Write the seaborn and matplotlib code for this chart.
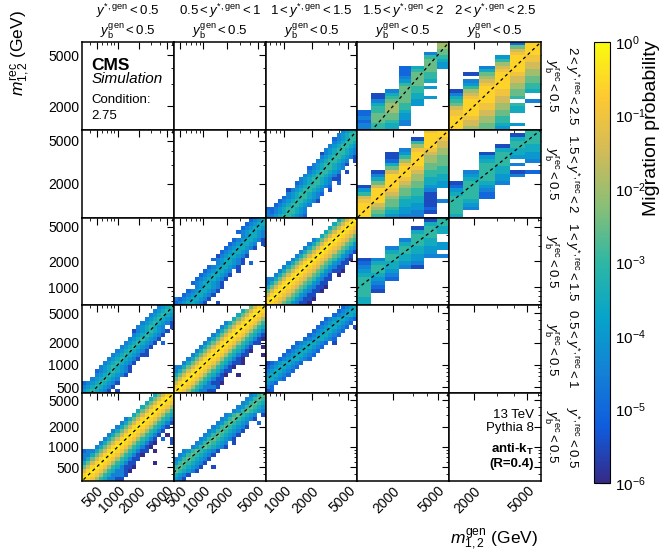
import numpy as np
import matplotlib
matplotlib.use("Agg")
import matplotlib.pyplot as plt
import seaborn as sns
from matplotlib.colors import LogNorm
from matplotlib.cm import ScalarMappable
from matplotlib.ticker import FixedLocator, LogLocator, NullFormatter, FuncFormatter

# ---------------------------------------------------------------- data
YSTAR_BINS = ["0", "0.5", "1", "1.5", "2", "2.5"]
YB_MAX = "0.5"

# mass bin edges (GeV) per y* bin
EDGES_YS0 = [310, 356, 408, 468, 536, 615, 705, 809, 928, 1064, 1220, 1400, 1605,
             1841, 2111, 2422, 2777, 3185, 3653, 4190, 4805, 5511, 6328]
EDGES_YS1 = [417, 472, 534, 604, 684, 774, 876, 991, 1121, 1269, 1436, 1625, 1839,
             2081, 2355, 2665, 3016, 3413, 3862, 4370, 4945, 5596, 6328]
EDGES_YS2 = [620, 689, 766, 851, 946, 1051, 1168, 1298, 1443, 1604, 1782, 1981, 2201,
             2447, 2719, 3022, 3358, 3732, 4148, 4610, 5124, 5694, 6328]
EDGES_YS3_REC = [970, 1049, 1134, 1226, 1326, 1434, 1550, 1676, 1813, 1960, 2119, 2292,
                 2478, 2679, 2897, 3132, 3387, 3662, 3960, 4282, 4630, 5006, 5413, 5853, 6328]
EDGES_YS3_GEN = [970, 1290, 1716, 2283, 2900, 3800, 4900, 6328]
EDGES_YS4_REC = [1313, 1395, 1482, 1574, 1673, 1777, 1888, 2005, 2130, 2263, 2404, 2554,
                 2714, 2883, 3063, 3253, 3456, 3672, 3901, 4144, 4402, 4677, 4969, 5278,
                 5608, 5957, 6328]
EDGES_YS4_GEN = [1313, 1670, 2190, 2870, 3710, 4790, 6328]

REC_EDGES = [EDGES_YS0, EDGES_YS1, EDGES_YS2, EDGES_YS3_REC, EDGES_YS4_REC]
GEN_EDGES = [EDGES_YS0, EDGES_YS1, EDGES_YS2, EDGES_YS3_GEN, EDGES_YS4_GEN]

# migration probability codes: log10(probability)
LEVEL_EXP = {'0': -0.25, '1': -0.6, '2': -1.0, '3': -1.5, '4': -2.0, '5': -2.5,
             '6': -3.0, '7': -3.5, '8': -4.0, '9': -4.5, 'a': -5.0, 'b': -5.5, 'c': -6.0}

# "rows" panels: one entry per rec bin from the top, (first gen bin, codes)
REC0_GEN0 = [(17, "75310"), (16, "753101"), (15, "7531012"), (14, "75310124"),
             (13, "753101246"), (12, "7531012467"), (10, "975310124679"),
             (9, "975310124679b"), (8, "975310124679b"), (7, "975310124679b"),
             (6, "975310124679b.c"), (5, "975310124679b.a.b"), (4, "975310124679bc...b"),
             (3, "975310124679bc"), (0, "a9975310124679bb.c"), (0, "9975310124679bc"),
             (0, "975310124679bb"), (0, "75310124679bb....c"), (0, "5310124679bbc"),
             (0, "3101246799bc"), (0, "1012467999b"), (0, "01246799bb")]
REC0_GEN1 = [(18, "9865"), (17, "98656"), (16, "986567"), (15, "9865678"),
             (14, "98656789"), (12, "98656789.b"), (11, "98656789b"), (10, "98656789..a"),
             (9, "98656789b"), (8, "98656789b"), (7, "98656789b"), (6, "98656789b"),
             (5, "98656789.b"), (4, "98656789b"), (2, "98656789b"), (1, "98656789b"),
             (0, "98656789b"), (0, "8656789b"), (0, "656789b..b"), (0, "56789b"),
             (0, "789b"), (0, "89b")]
REC1_GEN0 = [(18, "9876"), (17, "98767"), (16, "987678"), (15, "9876789"),
             (14, "9876789b"), (13, "9876789.b"), (12, "b9876789b"), (12, "9876789b"),
             (11, "9876789b"), (10, "9876789b.a"), (9, "9876789b"), (8, "9876789b"),
             (7, "9876789bb"), (6, "9876789b"), (5, "9876789b"), (4, "9876789b"),
             (3, "a9876789b"), (3, "9876789b"), (2, "9876789"), (0, "a9876789b"),
             (0, "9876789b"), (0, "876789b.b")]
REC1_GEN1 = [(18, "5310"), (16, "753101"), (15, "7531012"), (14, "75310124"),
             (12, "9753101246"), (11, "97531012467"), (10, "975310124679"),
             (9, "975310124679b"), (8, "975310124679bc"), (7, "975310124679bb"),
             (6, "975310124679b..c"), (5, "975310124679bc"), (4, "975310124679bb...c"),
             (3, "975310124679bc"), (2, "975310124679bbc"), (0, "9975310124679bc"),
             (0, "975310124679bb"), (0, "75310124679bc..c"), (0, "5310124679bb"),
             (0, "310124679bbc"), (0, "1012467999b"), (0, "01246799bb")]
REC1_GEN2 = [(18, "a987"), (17, "a9877"), (16, "a98778"), (14, "a987789a"),
             (13, "a987789a"), (12, "a987789a.b"), (11, "a987789a"), (10, "a987789a"),
             (9, "a987789a"), (7, "a987789a.b"), (6, "a987789a"), (5, "a987789a"),
             (4, "a987789a"), (3, "a987789a"), (0, "ba987789a"), (0, "a987789a"),
             (0, "987789a"), (0, "87789a"), (0, "7789a"), (0, "89a"), (0, "9a"), (0, "ba")]
REC2_GEN1 = [(18, "a987"), (17, "a9877"), (16, "a98778"), (15, "a987789"),
             (16, "987789"), (14, "a987789b"), (13, "a987789.b"), (12, "a987789b"),
             (11, "a987789"), (10, "b987789b"), (9, "a987789b"), (10, "987789b.a"),
             (8, "a987789b"), (7, "a987789.b"), (6, "a987789b"), (5, "a987789b"),
             (4, "a987789b"), (5, "987789b"), (3, "a987789b"), (2, "a987789b"),
             (0, "9a987789b"), (0, "a987789b..b")]
REC2_GEN2 = [(17, "75310"), (16, "753101"), (15, "7531012"), (14, "75310123"),
             (13, "753101235"), (11, "97531012356"), (10, "975310123568"),
             (9, "9753101235689"), (8, "9753101235689b"), (7, "9753101235689b"),
             (6, "9753101235689bc"), (5, "9753101235689bb"), (4, "9753101235689bb"),
             (3, "9753101235689bbc"), (2, "9753101235689b.c"), (0, "99753101235689bb"),
             (0, "9753101235689bb"), (0, "753101235689bbc"), (0, "53101235689bbc"),
             (0, "3101235689bb"), (0, "101235689bbc"), (0, "01235689bbc")]
REC3_GEN2 = [(18, "9876"), (17, "98766"), (16, "a98766"), (16, "987667"),
             (15, "9876678"), (14, "98766789"), (13, "b98766789"), (13, "98766789b"),
             (12, "98766789.b"), (11, "98766789b"), (10, "a98766789"), (10, "98766789.b"),
             (9, "98766789b"), (8, "98766789bb"), (7, "a98766789.a"), (7, "98766789a"),
             (5, "b98766789.b"), (5, "98766789a"), (4, "a98766789"), (3, "a98766789b"),
             (2, "a98766789"), (0, "aa98766789"), (0, "9a98766789"), (0, "998766789a")]

# "cols" panels: one entry per gen bin from the left, (first rec bin, codes bottom->top)
REC2_GEN3 = [(0, "7766666789ab"), (3, "ba9876679"), (6, "a98776679"), (9, "98776679"),
             (9, "b988776667b"), (12, "988776667b"), (12, "9.88..7766")]
REC3_GEN3 = [(0, "11112368b"), (0, "654311113579b"), (0, "876554321111357abb"),
             (0, "9887765543211124689"), (0, "998877665544321111246b"),
             (1, "babbbb98776655443211112"), (4, "9...8877665554433211")]
REC3_GEN4 = [(0, "76666678ab"), (2, "98766666789"), (5, "aa9876666678b"),
             (9, "9887766667b"), (11, "9b.9.877667b"), (12, "a..988776666")]
REC4_GEN3 = [(0, "99a9aa"), (0, "665556679bb"), (0, "776554445679"),
             (1, "998876655555689aaa"), (7, "887766555567"), (9, "8..8.766555569"),
             (18, "88765544")]
REC4_GEN4 = [(0, "11112235679b"), (0, "433211111234689.b"), (0, "5544332211111234579"),
             (0, "8766554433221111123468"), (1, "8...776.6554433211111235a"),
             (8, "9..766554433221111")]

PANELS = {(0, 0): ("rows", REC0_GEN0), (0, 1): ("rows", REC0_GEN1),
          (1, 0): ("rows", REC1_GEN0), (1, 1): ("rows", REC1_GEN1),
          (1, 2): ("rows", REC1_GEN2), (2, 1): ("rows", REC2_GEN1),
          (2, 2): ("rows", REC2_GEN2), (2, 3): ("cols", REC2_GEN3),
          (3, 2): ("rows", REC3_GEN2), (3, 3): ("cols", REC3_GEN3),
          (3, 4): ("cols", REC3_GEN4), (4, 3): ("cols", REC4_GEN3),
          (4, 4): ("cols", REC4_GEN4)}

XTICKS = [[500, 1000, 2000, 5000], [500, 1000, 2000, 5000], [1000, 2000, 5000],
          [2000, 5000], [2000, 5000]]
YTICKS = [[500, 1000, 2000, 5000], [500, 1000, 2000, 5000], [1000, 2000, 5000],
          [2000, 5000], [2000, 5000]]
CONDITION = "2.75"

# ---------------------------------------------------------------- style
sns.set_theme(style="white")
plt.rcParams['font.family'] = ['Liberation Sans', 'DejaVu Sans']
plt.rcParams['mathtext.fontset'] = 'custom'
plt.rcParams['mathtext.rm'] = 'Liberation Sans'
plt.rcParams['mathtext.it'] = 'Liberation Sans:italic'
plt.rcParams['mathtext.bf'] = 'Liberation Sans:bold'
plt.rcParams['axes.edgecolor'] = 'black'
plt.rcParams['axes.linewidth'] = 1.0
plt.rcParams['text.color'] = 'black'
plt.rcParams['axes.labelcolor'] = 'black'
plt.rcParams['xtick.color'] = 'black'
plt.rcParams['ytick.color'] = 'black'

KBIRD = [(0.2082, 0.1664, 0.5293), (0.0592, 0.3599, 0.8684), (0.0780, 0.5041, 0.8385),
         (0.0232, 0.6419, 0.7914), (0.1802, 0.7178, 0.6425), (0.5301, 0.7492, 0.4662),
         (0.8186, 0.7328, 0.3499), (0.9956, 0.7862, 0.1968), (0.9764, 0.9832, 0.0539)]
cmap = sns.blend_palette(KBIRD, n_colors=256, as_cmap=True)
norm = LogNorm(vmin=1e-6, vmax=1.0)


def build(kind, entries, n_rec, n_gen):
    z = np.full((n_rec, n_gen), np.nan)
    for k, (start, codes) in enumerate(entries):
        for t, ch in enumerate(codes):
            if ch == '.':
                continue
            if kind == "rows":
                i, j = n_rec - 1 - k, start + t
            else:
                i, j = start + t, k
            if 0 <= i < n_rec and 0 <= j < n_gen:
                z[i, j] = 10.0 ** LEVEL_EXP[ch]
    return np.ma.masked_invalid(z)


def ys_label(k, tag):
    core = r"y^{*,\mathrm{%s}}" % tag
    if k == 0:
        return r"$%s<%s$" % (core, YSTAR_BINS[1])
    return r"$%s<%s<%s$" % (YSTAR_BINS[k], core, YSTAR_BINS[k + 1])


def yb_label(tag):
    return r"$y_{\mathrm{b}}^{\mathrm{%s}}<%s$" % (tag, YB_MAX)


W, H = 664, 554
L, R, T, B = 82 / W, 541 / W, 1 - 42 / H, 1 - 481 / H
fig, axes = plt.subplots(5, 5, figsize=(W / 100, H / 100), dpi=100,
                         sharex='col', sharey='row',
                         gridspec_kw=dict(left=L, right=R, top=T, bottom=B,
                                          wspace=0, hspace=0))

all_edges = [e for lst in REC_EDGES + GEN_EDGES for e in lst]
diag = [min(all_edges) * 0.5, max(all_edges) * 2]

for p in range(5):
    for q in range(5):
        ax = axes[p][q]
        ax.set_xscale('log')
        ax.set_yscale('log')
        ax.set_facecolor('white')

for p in range(5):
    for q in range(5):
        ax = axes[p][q]
        r, g = 4 - p, q
        if (r, g) in PANELS:
            kind, entries = PANELS[(r, g)]
            z = build(kind, entries, len(REC_EDGES[r]) - 1, len(GEN_EDGES[g]) - 1)
            ax.pcolormesh(GEN_EDGES[g], REC_EDGES[r], z, cmap=cmap, norm=norm,
                          shading='flat', edgecolors='none')
            ax.plot(diag, diag, color='black', lw=0.9, ls=(0, (2.5, 2.5)), zorder=3)
        ax.set_xlim(GEN_EDGES[g][0], GEN_EDGES[g][-1])
        ax.set_ylim(REC_EDGES[r][0], REC_EDGES[r][-1])

fmt = FuncFormatter(lambda v, pos: f"{v:g}")
for q in range(5):
    ax = axes[4][q]
    ax.xaxis.set_major_locator(FixedLocator(XTICKS[q]))
    ax.xaxis.set_minor_locator(LogLocator(base=10, subs=np.arange(2, 10), numticks=50))
    ax.xaxis.set_major_formatter(fmt)
    ax.xaxis.set_minor_formatter(NullFormatter())
for p in range(5):
    ax = axes[p][0]
    ax.yaxis.set_major_locator(FixedLocator(YTICKS[4 - p]))
    ax.yaxis.set_minor_locator(LogLocator(base=10, subs=np.arange(2, 10), numticks=50))
    ax.yaxis.set_major_formatter(fmt)
    ax.yaxis.set_minor_formatter(NullFormatter())

for p in range(5):
    for q in range(5):
        ax = axes[p][q]
        ax.tick_params(which='both', direction='in', top=True, right=True,
                       labeltop=False, labelright=False, colors='black', labelsize=10)
        ax.tick_params(which='major', length=5, width=0.8, pad=2)
        ax.tick_params(which='minor', length=2.5, width=0.6)
        for s in ax.spines.values():
            s.set_linewidth(1.1)
            s.set_color('black')

for q in range(5):
    for lab in axes[4][q].get_xticklabels():
        lab.set_rotation(45)
        lab.set_ha('right')
        lab.set_rotation_mode('anchor')

# column headers
for q in range(5):
    xc = (82 + (q + 0.5) * (541 - 82) / 5) / W
    fig.text(xc, 1 - 11 / H, ys_label(q, "gen"), ha='center', va='center', fontsize=9.5)
    fig.text(xc, 1 - 31 / H, yb_label("gen"), ha='center', va='center', fontsize=9.5)

# row labels (right side)
for p in range(5):
    yc = 1 - (42 + (p + 0.5) * (481 - 42) / 5) / H
    fig.text(572 / W, yc, ys_label(4 - p, "rec"), ha='center', va='center',
             rotation=270, fontsize=9.5)
    fig.text(552 / W, yc, yb_label("rec"), ha='center', va='center',
             rotation=270, fontsize=9.5)

# CMS block
a0 = axes[0][0]
a0.text(0.10, 0.68, "CMS", transform=a0.transAxes, fontsize=12.5, fontweight='bold',
        va='baseline', ha='left')
a0.text(0.10, 0.53, "Simulation", transform=a0.transAxes, fontsize=11, style='italic',
        va='baseline', ha='left')
a0.text(0.10, 0.31, "Condition:", transform=a0.transAxes, fontsize=9.5,
        va='baseline', ha='left')
a0.text(0.10, 0.12, CONDITION, transform=a0.transAxes, fontsize=9.5,
        va='baseline', ha='left')

a4 = axes[4][4]
a4.text(0.92, 0.716, "13 TeV", transform=a4.transAxes, fontsize=9.5, ha='right', va='baseline')
a4.text(0.92, 0.568, "Pythia 8", transform=a4.transAxes, fontsize=9.5, ha='right', va='baseline')
a4.text(0.92, 0.318, r"anti-k$_{\mathbf{T}}$", transform=a4.transAxes, fontsize=9.5,
        fontweight='bold', ha='right', va='baseline')
a4.text(0.92, 0.159, "(R=0.4)", transform=a4.transAxes, fontsize=9.5,
        fontweight='bold', ha='right', va='baseline')

# axis titles
fig.text(538 / W, 1 - 543 / H, r"$m_{1,2}^{\mathrm{gen}}$ (GeV)", ha='right',
         va='baseline', fontsize=12.5)
fig.text(20 / W, 1 - 10 / H, r"$m_{1,2}^{\mathrm{rec}}$ (GeV)", ha='center',
         va='top', rotation=90, fontsize=12.5)

# colour bar
cax = fig.add_axes([594 / W, 1 - 483 / H, 16 / W, 441 / H])
cb = fig.colorbar(ScalarMappable(norm=norm, cmap=cmap), cax=cax)
cb.set_ticks([1e-6, 1e-5, 1e-4, 1e-3, 1e-2, 1e-1, 1])
cb.outline.set_linewidth(0.8)
cax.tick_params(which='both', direction='in', labelsize=11, colors='black')
cax.tick_params(which='major', length=7, width=0.8)
cax.tick_params(which='minor', length=3.5, width=0.6)
fig.text(652 / W, 1 - 40 / H, "Migration probability", rotation=90, ha='center',
         va='top', fontsize=14)

fig.savefig("out.png", dpi=100)
